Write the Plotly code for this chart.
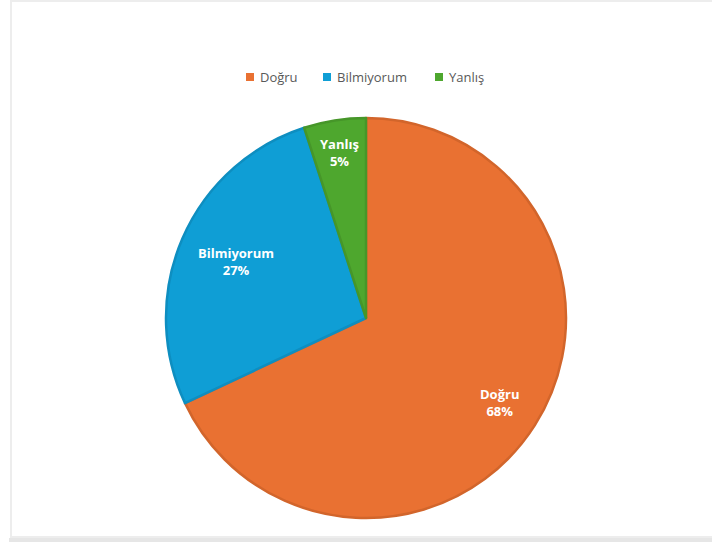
import math
import plotly.graph_objects as go

labels = ["Doğru", "Bilmiyorum", "Yanlış"]
values = [68, 27, 5]
colors = ["#E97132", "#0F9ED5", "#4EA72E"]
edge_colors = ["#D2652B", "#0E8EC0", "#469629"]

W, H = 712, 542
cx, cy, r = 366, 318, 200

# radial distance (fraction of radius) of each in-slice data label
label_radius = [0.79, 0.71, 0.84]
# left edge of each legend swatch (px) and the legend row's height
legend_x = [246, 323, 435]
legend_y = 77

fig = go.Figure(
    go.Pie(
        labels=labels,
        values=values,
        sort=False,
        direction="clockwise",
        rotation=0,
        marker=dict(colors=colors, line=dict(color=edge_colors, width=2.5)),
        textinfo="none",
        hoverinfo="skip",
        showlegend=False,
        domain=dict(
            x=[(cx - r) / W, (cx + r) / W],
            y=[(H - cy - r) / H, (H - cy + r) / H],
        ),
    )
)

# data labels placed on each slice's bisector
total = sum(values)
start = 0.0
annotations = []
for lab, val, frac in zip(labels, values, label_radius):
    mid = (start + val / 2) / total * 2 * math.pi
    start += val
    px = cx + frac * r * math.sin(mid)
    py = cy - frac * r * math.cos(mid)
    annotations.append(dict(
        x=px / W, y=1 - py / H, xref="paper", yref="paper",
        text=f"<b>{lab}</b><br><b>{round(val / total * 100)}%</b>",
        showarrow=False, xanchor="center", yanchor="middle",
        font=dict(family="Open Sans", size=13, color="white"),
    ))

# legend row: colour swatch + category name
shapes = []
for lab, col, lx in zip(labels, colors, legend_x):
    shapes.append(dict(
        type="rect", xref="paper", yref="paper",
        x0=lx / W, x1=(lx + 8) / W,
        y0=1 - (legend_y + 4) / H, y1=1 - (legend_y - 4) / H,
        fillcolor=col, line=dict(width=0),
    ))
    annotations.append(dict(
        x=(lx + 12) / W, y=1 - legend_y / H, xref="paper", yref="paper",
        text=lab, showarrow=False, xanchor="left", yanchor="middle",
        font=dict(family="Open Sans", size=13, color="#595959"),
    ))

# chart-area frame and bottom band
shapes += [
    dict(type="rect", xref="paper", yref="paper",
         x0=11 / W, x1=1.01, y0=1 - 537 / H, y1=1 - 1 / H,
         line=dict(color="#EDEDED", width=2), fillcolor="rgba(0,0,0,0)"),
    dict(type="rect", xref="paper", yref="paper",
         x0=9 / W, x1=1.0, y0=0, y1=1 - 538 / H,
         line=dict(width=0), fillcolor="#E6E6E6"),
]

fig.update_layout(
    width=W,
    height=H,
    margin=dict(l=0, r=0, t=0, b=0),
    paper_bgcolor="white",
    annotations=annotations,
    shapes=shapes,
)

fig.write_html("out.html")
